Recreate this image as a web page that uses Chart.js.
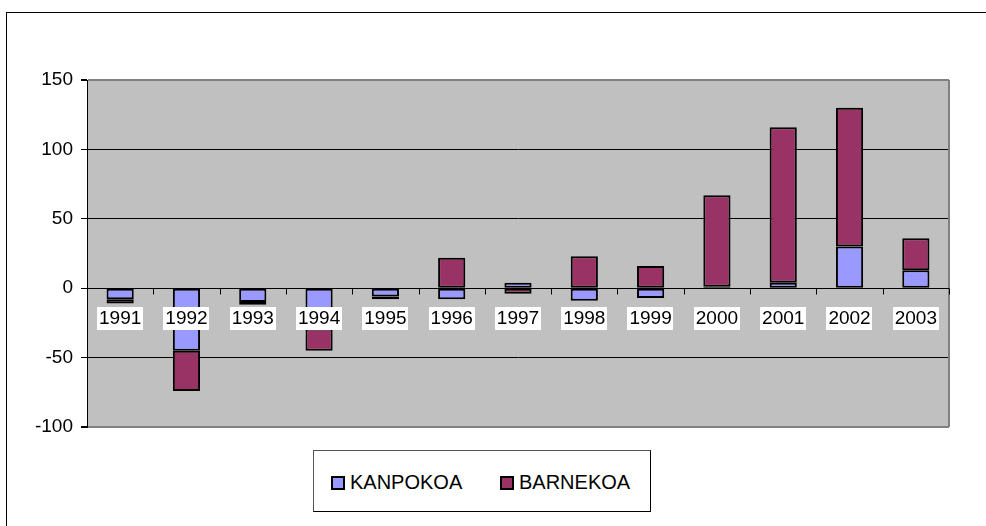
<!DOCTYPE html>
<html>
<head>
<meta charset="utf-8">
<script src="https://cdn.jsdelivr.net/npm/chart.js@4/dist/chart.umd.min.js"></script>
<style>
  html, body { margin: 0; padding: 0; background: #fff; }
  #wrap { position: relative; width: 986px; height: 526px; overflow: hidden; }
  #frame {
    position: absolute; left: 6px; top: 12px; width: 1000px; height: 600px;
    border-left: 1px solid #000; border-top: 1px solid #000;
  }
  #chart { position: absolute; left: 0; top: 0; }
  #legend {
    position: absolute; left: 313px; top: 450px; width: 336px; height: 60px;
    border: 1px solid #000; border-top-color: #555; border-left-color: #555;
    background: #fff; font-family: "Liberation Sans", Arial, sans-serif; font-size: 20px;
    color: #000;
  }
  .item { position: absolute; top: 19px; line-height: 24px; white-space: nowrap; }
  .sw {
    display: inline-block; width: 10px; height: 10px; border: 2px solid #000;
    vertical-align: -1px; margin-right: 5px;
  }
</style>
</head>
<body>
<div id="wrap">
  <div id="frame"></div>
  <canvas id="chart" width="986" height="526"></canvas>
  <div id="legend">
    <div class="item" style="left:17px"><span class="sw" style="background:#9999FF"></span>KANPOKOA</div>
    <div class="item" style="left:186px"><span class="sw" style="background:#993366"></span>BARNEKOA</div>
  </div>
</div>
<script>
// Data
const years = ['1991', '1992', '1993', '1994', '1995', '1996', '1997',
               '1998', '1999', '2000', '2001', '2002', '2003'];
const kanpokoa = [-8, -45, -10, -29, -6, -8, 4, -9, -7, 1, 4, 30, 13];
const barnekoa = [-3, -29, -2, -16, -2, 22, -4, 23, 16, 66, 112, 100, 23];
const yTicks = [-100, -50, 0, 50, 100, 150];

const FONT = '"Liberation Sans", Arial, sans-serif';

// gray plot background + right border, ticks and labels on the zero line
const plotDecor = {
    id: 'plotDecor',
    beforeDraw(chart) {
        const a = chart.chartArea;
        const c = chart.ctx;
        c.save();
        c.fillStyle = '#C0C0C0';
        c.fillRect(a.left, a.top, a.right - a.left, a.bottom - a.top);
        c.restore();
    },
    afterDraw(chart) {
        const a = chart.chartArea;
        const c = chart.ctx;
        const xs = chart.scales.x;
        const ys = chart.scales.y;
        const y0 = Math.round(ys.getPixelForValue(0)) + 0.5;

        c.save();
        // right border
        c.strokeStyle = '#808080';
        c.lineWidth = 2;
        c.beginPath();
        c.moveTo(a.right, a.top);
        c.lineTo(a.right, a.bottom);
        c.stroke();

        // zero axis and category ticks
        c.strokeStyle = '#000';
        c.lineWidth = 1;
        c.beginPath();
        c.moveTo(a.left, y0);
        c.lineTo(a.right, y0);
        for (let i = 0; i <= years.length; i++) {
            const x = Math.round(xs.getPixelForValue(i - 0.5)) + 0.5;
            c.moveTo(x, y0);
            c.lineTo(x, y0 + 6);
        }
        c.stroke();

        // category labels in white boxes
        c.font = '19px ' + FONT;
        c.textAlign = 'center';
        c.textBaseline = 'middle';
        years.forEach((lab, i) => {
            const x = xs.getPixelForValue(i);
            const w = c.measureText(lab).width + 4;
            c.fillStyle = '#fff';
            c.fillRect(Math.round(x - w / 2), Math.round(y0 + 18), Math.round(w), 23);
            c.fillStyle = '#000';
            c.fillText(lab, x, y0 + 30);
        });
        c.restore();
    }
};

new Chart(document.getElementById('chart'), {
    type: 'bar',
    data: {
        labels: years,
        datasets: [{
            label: 'KANPOKOA',
            data: kanpokoa,
            backgroundColor: '#9999FF',
            borderColor: '#000',
            borderWidth: 2,
            borderSkipped: false
        }, {
            label: 'BARNEKOA',
            data: barnekoa,
            backgroundColor: '#993366',
            borderColor: '#000',
            borderWidth: 2,
            borderSkipped: false
        }]
    },
    options: {
        responsive: false,
        animation: false,
        layout: { padding: { left: 0, top: 80, right: 37, bottom: 99 } },
        datasets: { bar: { barPercentage: 0.41, categoryPercentage: 1 } },
        plugins: {
            legend: { display: false },
            tooltip: { enabled: false }
        },
        scales: {
            x: {
                stacked: true,
                display: false
            },
            y: {
                stacked: true,
                min: -100,
                max: 150,
                afterBuildTicks: function(scale) {
                    scale.ticks = yTicks.map(v => ({ value: v }));
                },
                afterFit: function(scale) {
                    scale.width = 87;
                },
                border: { display: true, color: '#000', width: 1 },
                grid: {
                    color: function(ctx) {
                        const v = ctx.tick ? ctx.tick.value : null;
                        return (v === 150 || v === -100) ? '#808080' : '#000';
                    },
                    lineWidth: function(ctx) {
                        const v = ctx.tick ? ctx.tick.value : null;
                        return (v === 150 || v === -100) ? 2 : 1;
                    },
                    tickColor: '#000',
                    tickLength: 6
                },
                ticks: {
                    color: '#000',
                    padding: 8,
                    font: { family: FONT, size: 19 }
                }
            }
        }
    },
    plugins: [plotDecor]
});
</script>
</body>
</html>
